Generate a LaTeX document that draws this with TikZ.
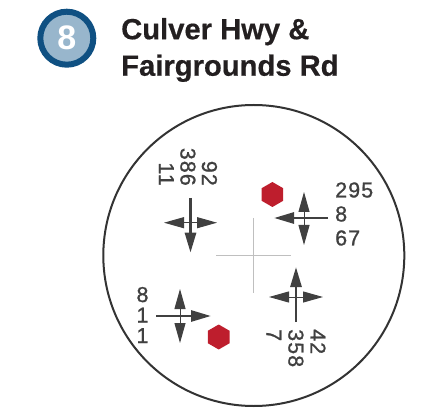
\documentclass[tikz,border=0pt]{standalone}
\usepackage{fontspec}
\setmainfont{Liberation Sans}
\newfontfamily\countfont[LetterSpace=5,FakeBold=1]{Liberation Sans}
\newfontfamily\titlefont[FakeBold=0.5]{Liberation Sans Bold}
\usetikzlibrary{arrows.meta,shapes.geometric}
\definecolor{badgering}{HTML}{0F5082}
\definecolor{badgefill}{HTML}{98B6CC}
\definecolor{titleink}{HTML}{231F20}
\definecolor{laneink}{HTML}{404040}
\definecolor{signalred}{HTML}{BE1E2D}
\tikzset{
  through/.style={line width=2.8pt,laneink,-{Triangle[length=20pt,width=11pt]}},
  turn/.style={line width=1pt,laneink,-{Triangle[length=20pt,width=11pt]}},
  cross/.style={line width=1pt,black!25},
  signal/.style={draw=none,fill=signalred,regular polygon,regular polygon sides=6,shape border rotate=30,minimum size=25pt,inner sep=0pt},
  counts/.style={laneink,inner sep=0pt,font=\countfont\fontsize{21.5}{#1}\selectfont},
}
\begin{document}
\begin{tikzpicture}[x=1pt,y=-1pt]
\useasboundingbox (0,0) rectangle (438,411);
\node[draw=badgering,fill=badgefill,line width=6pt,circle,minimum size=53pt,inner sep=0pt,text=white,font=\fontsize{34}{34}\selectfont\bfseries] (badge) at (66.8,38.2) {8};
\node[anchor=west,align=left,inner sep=0pt,text=titleink,font=\titlefont\fontsize{29.2}{36.5}\selectfont] (title) at (121,50) {Culver Hwy \&\\Fairgrounds Rd};
\node[draw=black!80,line width=2pt,circle,minimum size=301pt,inner sep=0pt] (ring) at (253.8,255.5) {};
% crosshair
\coordinate (cw) at (216,255);
\coordinate (ce) at (291,255);
\coordinate (cn) at (253.5,218);
\coordinate (cs) at (253.5,293);
\draw[cross] (cw)--(ce);
\draw[cross] (cn)--(cs);
% signals
\node[signal] (signe) at (272.4,194.5) {};
\node[signal] (sigsw) at (218.7,337) {};
% north west lanes
\coordinate (nwc) at (190.5,222.7);
\coordinate (nwtail) at (190.5,198);
\coordinate (nwtip) at (190.5,252.7);
\coordinate (nwl) at (164,222.7);
\coordinate (nwr) at (217,222.7);
\draw[turn] (nwc)--(nwl);
\draw[turn] (nwc)--(nwr);
\draw[through] (nwtail)--(nwtip);
\node[counts=21.5,rotate=-90,anchor=east,align=right] (nwcount) at (188,186) {92\\386\\11};
% north east lanes
\coordinate (nec) at (304,218);
\coordinate (netail) at (328,218);
\coordinate (netip) at (274,218);
\coordinate (neu) at (304,192);
\coordinate (ned) at (304,245);
\draw[turn] (nec)--(neu);
\draw[turn] (nec)--(ned);
\draw[through] (netail)--(netip);
\node[counts=24,anchor=west,align=left] (necount) at (335,214) {295\\8\\67};
% south west lanes
\coordinate (swc) at (180,316);
\coordinate (swtail) at (156,316);
\coordinate (swtip) at (211,316);
\coordinate (swu) at (180,289);
\coordinate (swd) at (180,343);
\draw[turn] (swc)--(swu);
\draw[turn] (swc)--(swd);
\draw[through] (swtail)--(swtip);
\node[counts=20.5,align=center] (swcount) at (142.5,315) {8\\1\\1};
% south east lanes
\coordinate (sec) at (296,297);
\coordinate (setail) at (296,322);
\coordinate (setip) at (296,267);
\coordinate (sel) at (269,297);
\coordinate (ser) at (323,297);
\draw[turn] (sec)--(sel);
\draw[turn] (sec)--(ser);
\draw[through] (setail)--(setip);
\node[counts=22,rotate=-90,anchor=west,align=left] (secount) at (296,329) {42\\358\\7};
\end{tikzpicture}
\end{document}
